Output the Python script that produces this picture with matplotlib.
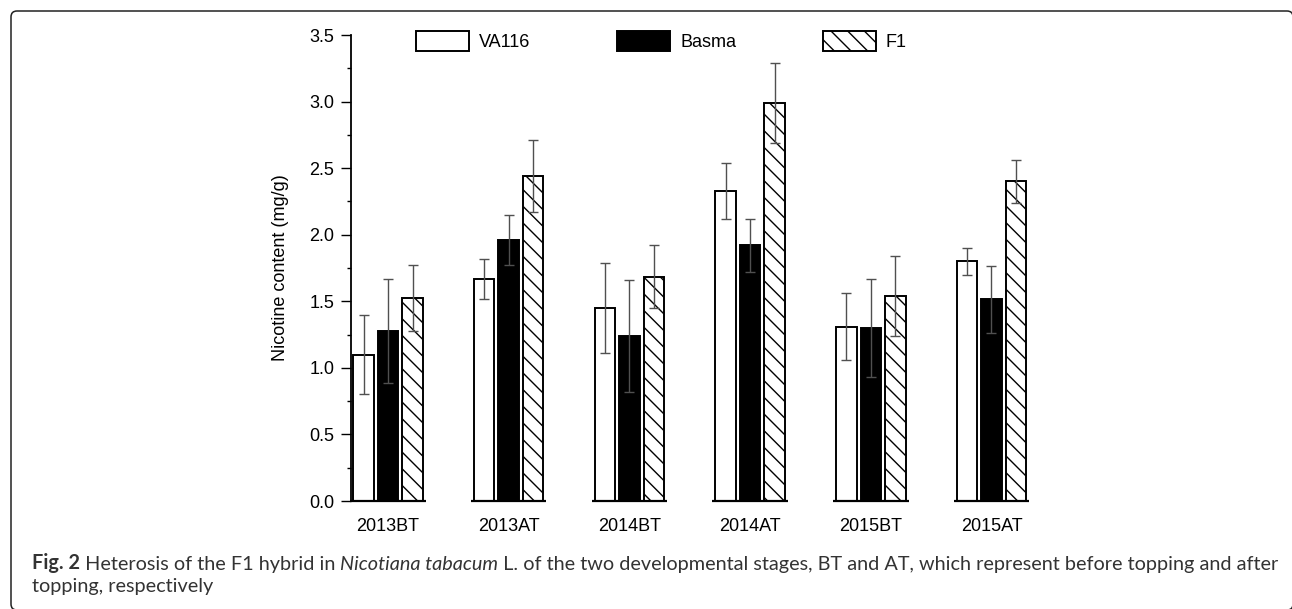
import matplotlib
matplotlib.use('Agg')
import numpy as np
import matplotlib.pyplot as plt
from matplotlib.ticker import MultipleLocator, FormatStrFormatter
from matplotlib.patches import FancyBboxPatch

# 数据
cats = ['2013BT', '2013AT', '2014BT', '2014AT', '2015BT', '2015AT']
va116 = [1.10, 1.67, 1.45, 2.33, 1.31, 1.80]
va116_err = [0.30, 0.15, 0.335, 0.21, 0.25, 0.10]
basma = [1.275, 1.96, 1.24, 1.92, 1.30, 1.515]
basma_err = [0.39, 0.19, 0.42, 0.20, 0.365, 0.25]
f1 = [1.525, 2.44, 1.685, 2.99, 1.54, 2.40]
f1_err = [0.245, 0.27, 0.235, 0.30, 0.30, 0.16]

plt.rcParams['font.family'] = ['Liberation Sans', 'DejaVu Sans']
plt.rcParams['hatch.linewidth'] = 1.0

W, H = 1292, 609
fig = plt.figure(figsize=(W / 100, H / 100), dpi=100)
ax = fig.add_axes([351 / W, 108 / H, 689 / W, 466 / H])

x = np.arange(len(cats))
off, w = 0.203, 0.17
ax.bar(x - off, va116, w, color='white', edgecolor='black', lw=1.4, label='VA116', zorder=2)
ax.bar(x, basma, w, color='black', edgecolor='black', lw=1.4, label='Basma', zorder=2)
ax.bar(x + off, f1, w, color='white', edgecolor='black', lw=1.4, hatch='\\\\', label='F1', zorder=2)

# 误差棒
for xs, ys, es in [(x - off, va116, va116_err), (x, basma, basma_err), (x + off, f1, f1_err)]:
    ax.errorbar(xs, ys, yerr=es, fmt='none', ecolor='#505050', elinewidth=1,
                capsize=3.6, capthick=1, zorder=3)

# 分段的x轴线
for xi in x:
    ax.plot([xi - off - w / 2 - 0.025, xi + off + w / 2 + 0.025], [0, 0],
            color='black', lw=1.6, clip_on=False, solid_capstyle='butt', zorder=4)

ax.set_xlim(-0.3066, 5.402)
ax.set_ylim(0, 3.5)
for s in ['top', 'right', 'bottom']:
    ax.spines[s].set_visible(False)
ax.spines['left'].set_linewidth(1.3)

ax.yaxis.set_major_locator(MultipleLocator(0.5))
ax.yaxis.set_minor_locator(MultipleLocator(0.25))
ax.yaxis.set_major_formatter(FormatStrFormatter('%.1f'))
ax.tick_params(axis='y', which='major', direction='out', length=7, width=1, labelsize=13, pad=5)
ax.tick_params(axis='y', which='minor', direction='out', length=3.2, width=1)
ax.set_xticks(x, cats)
ax.tick_params(axis='x', length=0, pad=12, labelsize=13)

ax.set_ylabel('Nicotine content (mg/g)', fontsize=13)
ax.yaxis.set_label_coords(-0.09, 0.5)

ax.legend(loc='center left', bbox_to_anchor=(416 / W, 1 - 41 / H), bbox_transform=fig.transFigure,
          ncol=3, frameon=False, handlelength=2.94, handleheight=1.33, handletextpad=0.55,
          columnspacing=4.8, borderpad=0, borderaxespad=0, fontsize=13)

# 外框（右侧和底部基本在图外）
frame = FancyBboxPatch((0.11, -0.01), 12.82, 5.99, boxstyle='round,pad=0,rounding_size=0.06',
                       transform=fig.dpi_scale_trans, fill=False, edgecolor='#222222', lw=1.1)
fig.add_artist(frame)

# 图注
cap_color = '#333333'
pieces = [('Fig. 2', 'bold', 'normal'),
          (' Heterosis of the F1 hybrid in ', 'normal', 'normal'),
          ('Nicotiana tabacum', 'normal', 'italic'),
          (' L. of the two developmental stages, BT and AT, which represent before topping and after',
           'normal', 'normal')]
fs = 12
texts = []
prev = None
for s, wt, st in pieces:
    if prev is None:
        t = fig.text(32 / W, 1 - 569 / H, s, fontsize=fs, fontweight=wt, fontstyle=st,
                     family='Lato', color=cap_color, va='baseline', ha='left')
    else:
        t = ax.annotate(s, xy=(1, 0), xycoords=prev, fontsize=fs, fontweight=wt, fontstyle=st,
                        family='Lato', color=cap_color, va='bottom', ha='left', annotation_clip=False)
    texts.append(t)
    prev = t
t2 = fig.text(32 / W, 1 - 592 / H, 'topping, respectively', fontsize=fs, family='Lato',
              color=cap_color, va='baseline', ha='left')
texts.append(t2)

# 按参考图宽度调整字号
fig.canvas.draw()
r = fig.canvas.get_renderer()
x0 = texts[0].get_window_extent(r).x0
x1 = texts[3].get_window_extent(r).x1
scale = (1273 - 32) / (x1 - x0)
for t in texts:
    t.set_fontsize(fs * scale)

fig.savefig('out.png', dpi=100)
